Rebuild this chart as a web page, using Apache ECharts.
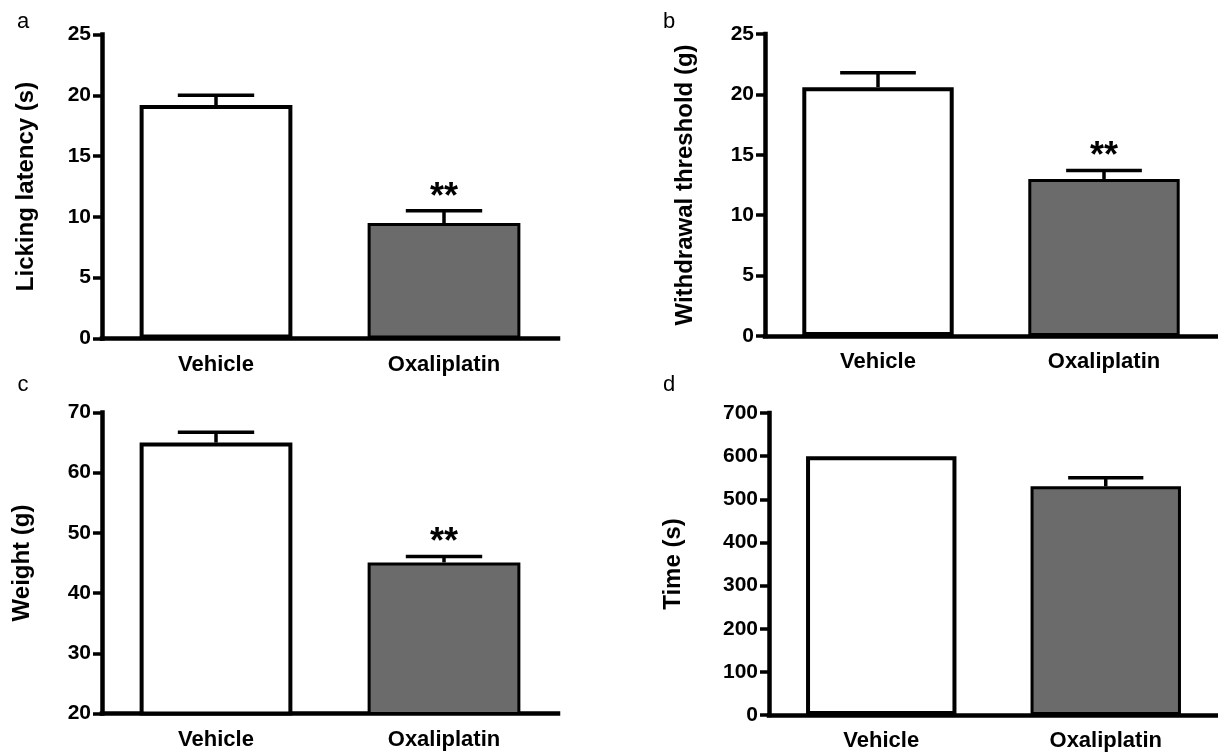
<!DOCTYPE html>
<html>
<head>
<meta charset="utf-8">
<script src="https://cdn.jsdelivr.net/npm/echarts@6/dist/echarts.min.js"></script>
<style>
  html, body { margin: 0; padding: 0; background: #fff; }
  #chart { width: 1218px; height: 752px; }
</style>
</head>
<body>
<div id="chart"></div>
<script>
// groups on the x axis
var categories = ['Vehicle', 'Oxaliplatin'];

// a: licking latency (s)
var lickMean = [19.2, 9.5];
var lickSem = [0.8, 1.0];
var lickSig = ['', '**'];

// b: withdrawal threshold (g)
var withdrawMean = [20.6, 13.0];
var withdrawSem = [1.2, 0.7];
var withdrawSig = ['', '**'];

// c: weight (g)
var weightMean = [65.0, 45.1];
var weightSem = [1.7, 1.0];
var weightSig = ['', '**'];

// d: time (s)
var timeMean = [600, 530];
var timeSem = [0, 20];
var timeSig = ['', ''];

var FONT = 'Arial, "Liberation Sans", Helvetica, sans-serif';
var barFill = ['#ffffff', '#6b6b6b'];
var barBorder = [4, 3];

var myChart = echarts.init(document.getElementById('chart'), null, { renderer: 'canvas' });

function makeX(idx) {
    return {
        type: 'category',
        gridIndex: idx,
        data: categories,
        axisLine: { lineStyle: { color: '#000', width: 4.5, cap: 'square' } },
        axisTick: { alignWithLabel: true, length: 10, lineStyle: { color: '#000', width: 4 } },
        axisLabel: { color: '#000', fontFamily: FONT, fontWeight: 'bold', fontSize: 22, margin: 15 },
        splitLine: { show: false }
    };
}

function makeY(idx, name, min, max, step, gap) {
    return {
        type: 'value',
        gridIndex: idx,
        min: min,
        max: max,
        interval: step,
        name: name,
        nameLocation: 'middle',
        nameRotate: 90,
        nameGap: gap,
        nameTextStyle: { color: '#000', fontFamily: FONT, fontWeight: 'bold', fontSize: 24 },
        axisLine: { show: true, lineStyle: { color: '#000', width: 4.5, cap: 'square' } },
        axisTick: { show: true, length: 9, lineStyle: { color: '#000', width: 3.5 } },
        axisLabel: { color: '#000', fontFamily: FONT, fontWeight: 'bold', fontSize: 21, margin: 11 },
        splitLine: { show: false }
    };
}

function barSeries(idx, means) {
    return {
        type: 'bar',
        xAxisIndex: idx,
        yAxisIndex: idx,
        barWidth: '67%',
        silent: true,
        data: means.map(function (v, i) {
            return {
                value: v,
                itemStyle: { color: barFill[i], borderColor: '#000', borderWidth: barBorder[i] }
            };
        }),
        z: 2
    };
}

function errSeries(idx, means, sems, sigs) {
    return {
        type: 'custom',
        xAxisIndex: idx,
        yAxisIndex: idx,
        silent: true,
        z: 3,
        data: means.map(function (v, i) { return [i, v, v + sems[i]]; }),
        renderItem: function (params, api) {
            var x = api.value(0);
            var base = api.coord([x, api.value(1)]);
            var top = api.coord([x, api.value(2)]);
            var half = api.size([1, 0])[0] * 0.67 * 0.25;
            var kids = [];
            if (api.value(2) > api.value(1)) {
                kids.push({
                    type: 'line',
                    shape: { x1: base[0], y1: base[1], x2: top[0], y2: top[1] },
                    style: { stroke: '#000', lineWidth: 3.5 }
                });
                kids.push({
                    type: 'line',
                    shape: { x1: top[0] - half, y1: top[1], x2: top[0] + half, y2: top[1] },
                    style: { stroke: '#000', lineWidth: 3.5 }
                });
            }
            var sig = sigs[params.dataIndex];
            if (sig) {
                kids.push({
                    type: 'text',
                    style: {
                        text: sig,
                        x: top[0],
                        y: top[1] - 13,
                        align: 'center',
                        verticalAlign: 'middle',
                        fill: '#000',
                        font: 'bold 36px ' + FONT
                    }
                });
            }
            return { type: 'group', children: kids };
        }
    };
}

function letter(t, x, y) {
    return {
        type: 'text',
        x: x,
        y: y,
        style: { text: t, font: '22px ' + FONT, fill: '#000', align: 'center', verticalAlign: 'middle' }
    };
}

var option = {
    animation: false,
    backgroundColor: '#fff',
    grid: [
        { left: 102, top: 34.5, width: 456, height: 304 },
        { left: 765, top: 34, width: 452, height: 302 },
        { left: 102, top: 412.5, width: 456, height: 301 },
        { left: 769, top: 413, width: 452, height: 302 }
    ],
    xAxis: [makeX(0), makeX(1), makeX(2), makeX(3)],
    yAxis: [
        makeY(0, 'Licking latency (s)', 0, 25, 5, 64),
        makeY(1, 'Withdrawal threshold (g)', 0, 25, 5, 68),
        makeY(2, 'Weight (g)', 20, 70, 10, 68),
        makeY(3, 'Time (s)', 0, 700, 100, 84)
    ],
    graphic: [
        letter('a', 23, 22),
        letter('b', 669, 22),
        letter('c', 23, 385),
        letter('d', 669, 385)
    ],
    series: [
        barSeries(0, lickMean), errSeries(0, lickMean, lickSem, lickSig),
        barSeries(1, withdrawMean), errSeries(1, withdrawMean, withdrawSem, withdrawSig),
        barSeries(2, weightMean), errSeries(2, weightMean, weightSem, weightSig),
        barSeries(3, timeMean), errSeries(3, timeMean, timeSem, timeSig)
    ]
};

myChart.setOption(option);
</script>
</body>
</html>
